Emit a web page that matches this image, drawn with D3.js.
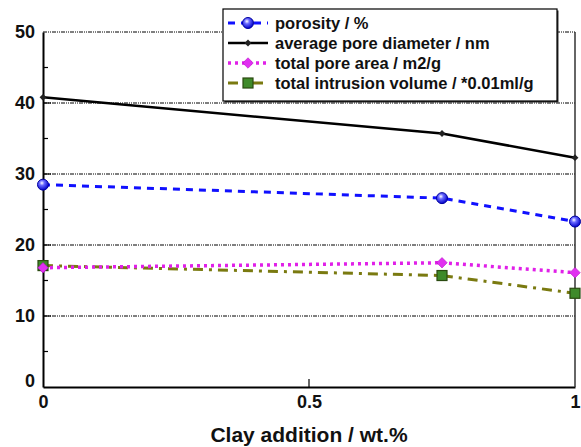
<!DOCTYPE html>
<html lang="en">
<head>
  <meta charset="UTF-8">
  <title>Pore properties vs clay addition</title>
  <script src="https://d3js.org/d3.v7.min.js"></script>
  <style>
    html, body { margin: 0; padding: 0; background: #fff; }
  </style>
</head>
<body>
  <div id="chart"></div>
  <script>
    // data
    var clay = [0, 0.75, 1];
    var porosity = [28.5, 26.6, 23.3];
    var poreDiameter = [40.8, 35.7, 32.3];
    var poreArea = [16.8, 17.5, 16.1];
    var intrusionVolume = [17.1, 15.7, 13.2];
    var xTicks = [0, 0.5, 1];
    var yTicks = [0, 10, 20, 30, 40, 50];
    var seriesNames = ["porosity / %", "average pore diameter / nm", "total pore area / m2/g", "total intrusion volume / *0.01ml/g"];

    var width = 581, height = 447;
    var margin = {top: 32, right: 6, bottom: 60, left: 43};
    var FONT = "'Liberation Sans', Arial, sans-serif";

    var svg = d3.select("#chart").append("svg")
      .attr("width", width)
      .attr("height", height);

    var defs = svg.append("defs");
    var grad = defs.append("radialGradient").attr("id", "ball")
      .attr("cx", "40%").attr("cy", "35%").attr("r", "65%");
    grad.append("stop").attr("offset", "0%").attr("stop-color", "#ffffff");
    grad.append("stop").attr("offset", "35%").attr("stop-color", "#6a6aff");
    grad.append("stop").attr("offset", "100%").attr("stop-color", "#0000c8");

    var x = d3.scaleLinear().domain([0, 1]).range([margin.left, width - margin.right]);
    var y = d3.scaleLinear().domain([0, 50]).range([height - margin.bottom, margin.top]);

    function boldText(sel, size) {
      sel.style("font-family", FONT).style("font-weight", "700").style("font-size", size + "px").attr("fill", "#111");
    }

    // gridlines
    svg.append("g").selectAll("line")
      .data(yTicks.slice(1))
      .join("line")
      .attr("x1", x(0)).attr("x2", x(1))
      .attr("y1", d => y(d)).attr("y2", d => y(d))
      .attr("stroke", "#000")
      .attr("stroke-width", 1)
      .attr("stroke-dasharray", "4,1,1,1,1,1");

    // axes
    var yAxis = svg.append("g")
      .attr("transform", `translate(${x(0)},0)`)
      .call(d3.axisLeft(y).tickValues(yTicks).tickSize(0).tickPadding(8));
    var xAxis = svg.append("g")
      .attr("transform", `translate(0,${y(0)})`)
      .call(d3.axisBottom(x).tickValues(xTicks).tickFormat(d3.format("")).tickSize(0).tickPadding(8));
    [yAxis, xAxis].forEach(function(a) {
      a.select(".domain").attr("stroke", "#000").attr("stroke-width", 2);
      boldText(a.selectAll("text"), 18);
    });
    yAxis.selectAll(".tick").filter(d => d === 0).select("text").attr("dy", "-0.05em");

    // inner ticks
    svg.append("g").selectAll("line")
      .data(d3.range(5, 50, 5))
      .join("line")
      .attr("x1", x(0)).attr("x2", d => x(0) + (d % 10 === 0 ? 8 : 5))
      .attr("y1", d => y(d)).attr("y2", d => y(d))
      .attr("stroke", "#000").attr("stroke-width", 1.2);
    svg.append("line")
      .attr("x1", x(0.5)).attr("x2", x(0.5))
      .attr("y1", y(0)).attr("y2", y(0) - 8)
      .attr("stroke", "#000").attr("stroke-width", 1.2);

    // right border
    svg.append("line")
      .attr("x1", x(1)).attr("x2", x(1))
      .attr("y1", y(50)).attr("y2", y(0))
      .attr("stroke", "#333").attr("stroke-width", 1.5);

    var series = [
      {name: seriesNames[0], values: porosity, color: "#1010ff", dash: "7,6", width: 3, marker: "ball"},
      {name: seriesNames[1], values: poreDiameter, color: "#000", dash: null, width: 2.5, marker: "smalldiamond"},
      {name: seriesNames[2], values: poreArea, color: "#e020e8", dash: "3,4", width: 3.5, marker: "diamond"},
      {name: seriesNames[3], values: intrusionVolume, color: "#7a7a10", dash: "10,6,3,6", width: 3, marker: "square"}
    ];

    var line = d3.line().x(d => x(d[0])).y(d => y(d[1]));

    function drawMarker(g, type, cx, cy) {
      if (type === "ball") {
        g.append("circle").attr("cx", cx).attr("cy", cy).attr("r", 5.5)
          .attr("fill", "url(#ball)").attr("stroke", "#0000a0").attr("stroke-width", 1);
      } else if (type === "smalldiamond") {
        g.append("path").attr("d", d3.symbol(d3.symbolDiamond2, 30)())
          .attr("transform", `translate(${cx},${cy})`).attr("fill", "#222");
      } else if (type === "diamond") {
        g.append("path").attr("d", d3.symbol(d3.symbolDiamond2, 70)())
          .attr("transform", `translate(${cx},${cy})`).attr("fill", "#e030f0").attr("stroke", "#b000c0").attr("stroke-width", 0.5);
      } else if (type === "square") {
        g.append("rect").attr("x", cx - 5).attr("y", cy - 5).attr("width", 10).attr("height", 10)
          .attr("fill", "#3f8a2a").attr("stroke", "#2a4a10").attr("stroke-width", 1.2);
      }
    }

    // draw series (bottom series first)
    series.slice().reverse().forEach(function(s) {
      var pts = clay.map((c, i) => [c, s.values[i]]);
      svg.append("path").datum(pts)
        .attr("fill", "none")
        .attr("stroke", s.color)
        .attr("stroke-width", s.width)
        .attr("stroke-dasharray", s.dash)
        .attr("d", line);
      var g = svg.append("g");
      pts.forEach(p => drawMarker(g, s.marker, x(p[0]), y(p[1])));
    });

    // legend
    var lg = svg.append("g").attr("transform", "translate(223,9)");
    lg.append("rect").attr("x", 1.5).attr("y", 1.5).attr("width", 334).attr("height", 92)
      .attr("fill", "#333");
    lg.append("rect").attr("x", 0).attr("y", 0).attr("width", 334).attr("height", 92)
      .attr("fill", "#fff").attr("stroke", "#000").attr("stroke-width", 1.2);
    series.forEach(function(s, i) {
      var ry = 14 + i * 20;
      lg.append("line")
        .attr("x1", 5).attr("x2", 45).attr("y1", ry).attr("y2", ry)
        .attr("stroke", s.color).attr("stroke-width", s.width)
        .attr("stroke-dasharray", s.dash);
      drawMarker(lg, s.marker, 25, ry);
      boldText(lg.append("text")
        .attr("x", 52).attr("y", ry).attr("dy", "0.36em")
        .text(s.name), 16.5);
    });

    // axis title
    boldText(svg.append("text")
      .attr("x", x(0.5)).attr("y", 442)
      .attr("text-anchor", "middle")
      .text("Clay addition / wt.%"), 21);
  </script>
</body>
</html>
